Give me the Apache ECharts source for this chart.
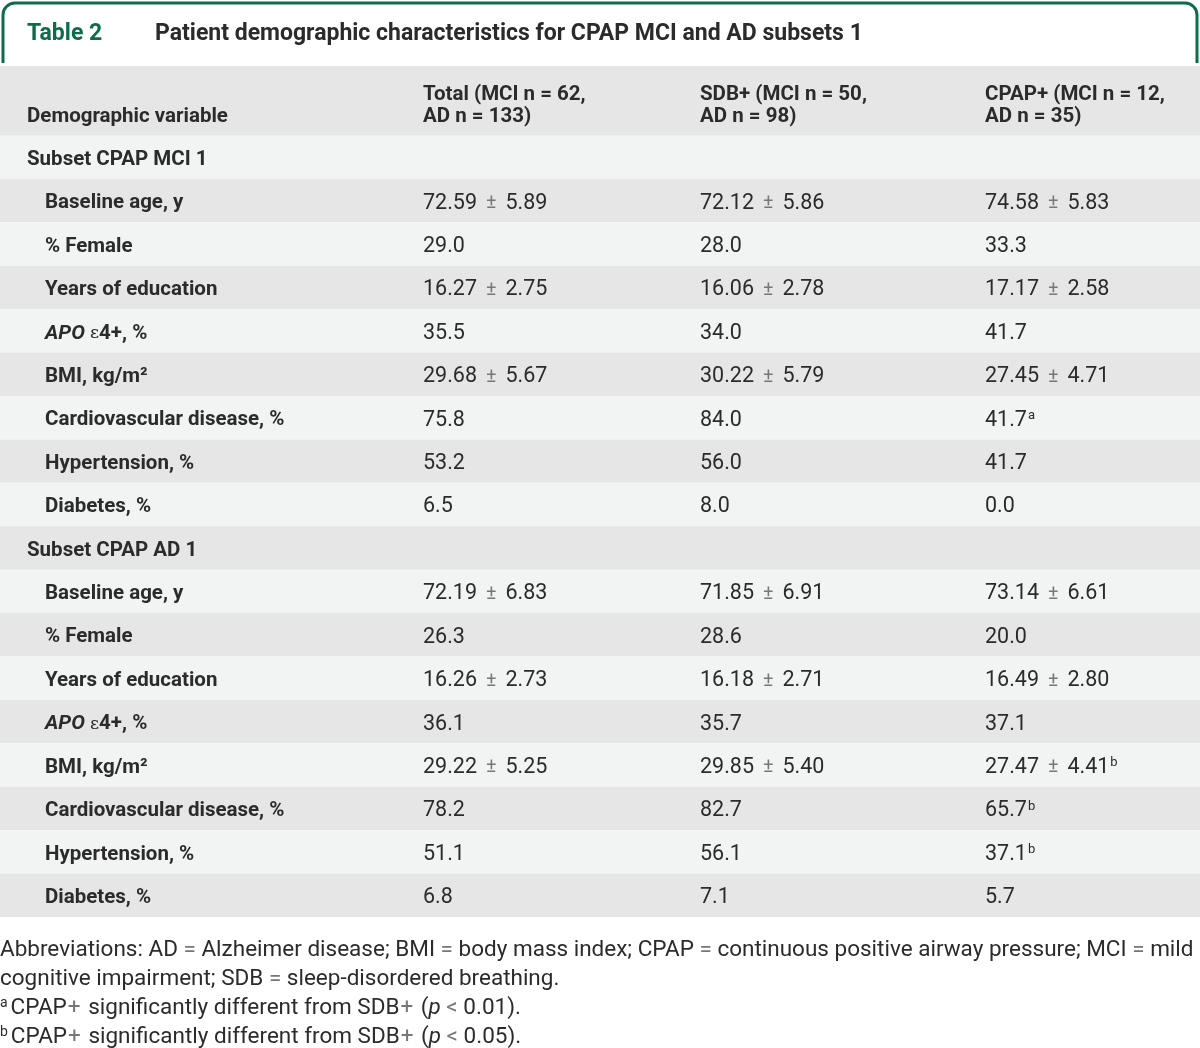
<!DOCTYPE html>
<html><head><meta charset="utf-8">
<script src="https://cdn.jsdelivr.net/npm/echarts@6/dist/echarts.min.js"></script>
<style>html,body{margin:0;padding:0;background:#fff}#c{width:1200px;height:1048px}</style>
</head><body><div id="c"></div>
<script>
// ---------- data ----------
var rowLabels = ["Subset CPAP MCI 1","Baseline age, y","% Female","Years of education","APO ε4+, %","BMI, kg/m²","Cardiovascular disease, %","Hypertension, %","Diabetes, %",
                 "Subset CPAP AD 1","Baseline age, y","% Female","Years of education","APO ε4+, %","BMI, kg/m²","Cardiovascular disease, %","Hypertension, %","Diabetes, %"];
var rowLevel  = [0,1,1,1,1,1,1,1,1, 0,1,1,1,1,1,1,1,1];
var totalMean = [null,72.59,29.0,16.27,35.5,29.68,75.8,53.2,6.5, null,72.19,26.3,16.26,36.1,29.22,78.2,51.1,6.8];
var totalSD   = [null,5.89,null,2.75,null,5.67,null,null,null, null,6.83,null,2.73,null,5.25,null,null,null];
var sdbMean   = [null,72.12,28.0,16.06,34.0,30.22,84.0,56.0,8.0, null,71.85,28.6,16.18,35.7,29.85,82.7,56.1,7.1];
var sdbSD     = [null,5.86,null,2.78,null,5.79,null,null,null, null,6.91,null,2.71,null,5.40,null,null,null];
var cpapMean  = [null,74.58,33.3,17.17,41.7,27.45,41.7,41.7,0.0, null,73.14,20.0,16.49,37.1,27.47,65.7,37.1,5.7];
var cpapSD    = [null,5.83,null,2.58,null,4.71,null,null,null, null,6.61,null,2.80,null,4.41,null,null,null];
var cpapNote  = ["","","","","","","a","","", "","","","","","b","b","b",""];
var columnHeaders = [["Total (MCI n = 62,","AD n = 133)"],["SDB+ (MCI n = 50,","AD n = 98)"],["CPAP+ (MCI n = 12,","AD n = 35)"]];
var firstHeader = "Demographic variable";
var tableLabel = "Table 2";
var tableTitle = "Patient demographic characteristics for CPAP MCI and AD subsets 1";

// ---------- style ----------
var FONT = 'Roboto';
var TXT = '#2b2b2b';
var GREEN = '#0d6c4c';
var DARK = '#e6e6e6', LIGHT = '#f2f3f3';
var COLX = [423, 700, 985];
var LBLFS = 20.5, VALFS = 21.5, DY = 2.5;

function fmt(m, sd, note) {
  if (m == null) return '';
  var s;
  if (sd != null) s = m.toFixed(2) + '{pm|±}' + sd.toFixed(2);
  else s = m.toFixed(1);
  if (note) s += '{sup|' + note + '}';
  return s;
}
var valRich = {
  pm: {fontFamily: FONT, fontSize: VALFS - 2, fill: '#777', padding: [0, 9, 0, 9]},
  sup: {fontFamily: FONT, fontSize: 13, verticalAlign: 'top', fill: TXT, padding: [0, 0, 0, 1]}
};
var lblRich = {
  i: {fontFamily: FONT, fontWeight: 'bold', fontStyle: 'italic', fontSize: LBLFS, fill: TXT},
  e: {fontFamily: 'DejaVu Serif', fontSize: LBLFS - 3, fill: TXT}
};

function labelText(s) {
  if (s.indexOf('APO') === 0) return '{i|APO} {e|ε}4+, %';
  return s;
}

function hdr(x, y, t) {
  return {type: 'text', x: x, y: y + DY, style: {text: t, fontFamily: FONT, fontWeight: 'bold', fontSize: LBLFS, fill: TXT, verticalAlign: 'middle'}};
}
var NFS = 22.5;
var noteRich = {
  s: {fontFamily: FONT, fontSize: 14, verticalAlign: 'top', fill: TXT, padding: [0, 3, 0, 0]},
  g: {fontFamily: FONT, fontSize: NFS, fill: '#777'},
  m: {fontFamily: FONT, fontSize: NFS, fill: '#777', padding: [0, 2, 0, 1]},
  i: {fontFamily: FONT, fontStyle: 'italic', fontSize: NFS, fill: TXT}
};
function note(y, t) {
  return {type: 'text', x: 0, y: y, style: {text: t, rich: noteRich, fontFamily: FONT, fontSize: NFS, fill: TXT, verticalAlign: 'middle'}};
}

var chart = echarts.init(document.getElementById('c'), null, {renderer: 'canvas'});
var option = {
  animation: false,
  backgroundColor: '#fff',
  grid: {left: 0, right: 0, top: 135.5, bottom: 131},
  xAxis: {type: 'value', min: 0, max: 1200, show: false},
  yAxis: {type: 'category', data: rowLabels, inverse: true, show: false},
  series: [{
    type: 'custom',
    data: rowLabels.map(function (_, i) { return [0, i]; }),
    encode: {x: 0, y: 1},
    renderItem: function (params, api) {
      var i = api.value(1);
      var c = api.coord([0, i]);
      var h = api.size([0, 1])[1];
      var xR = api.coord([1200, i])[0];
      var y = c[1];
      var kids = [{
        type: 'rect',
        shape: {x: c[0], y: y - h / 2, width: xR - c[0], height: h},
        style: {fill: i % 2 === 0 ? LIGHT : DARK}
      }, {
        type: 'text',
        style: {
          x: api.coord([rowLevel[i] ? 45 : 27, i])[0], y: y + DY,
          text: labelText(rowLabels[i]), rich: lblRich,
          fontFamily: FONT, fontWeight: 'bold', fontSize: LBLFS, fill: TXT,
          verticalAlign: 'middle', align: 'left'
        }
      }];
      var vals = [fmt(totalMean[i], totalSD[i], ''), fmt(sdbMean[i], sdbSD[i], ''), fmt(cpapMean[i], cpapSD[i], cpapNote[i])];
      for (var k = 0; k < 3; k++) {
        if (!vals[k]) continue;
        kids.push({
          type: 'text',
          style: {
            x: api.coord([COLX[k], i])[0], y: y + DY,
            text: vals[k], rich: valRich,
            fontFamily: FONT, fontSize: VALFS, fill: TXT,
            verticalAlign: 'middle', align: 'left'
          }
        });
      }
      return {type: 'group', children: kids};
    }
  }],
  graphic: [
    {type: 'polyline', shape: {points: [[3, 63], [3, 15]]}, style: {stroke: GREEN, lineWidth: 3, fill: null}},
    {type: 'arc', shape: {cx: 15, cy: 15, r: 12, startAngle: Math.PI, endAngle: Math.PI * 1.5}, style: {stroke: GREEN, lineWidth: 3, fill: null}},
    {type: 'polyline', shape: {points: [[15, 3], [1185, 3]]}, style: {stroke: GREEN, lineWidth: 3, fill: null}},
    {type: 'arc', shape: {cx: 1185, cy: 15, r: 12, startAngle: Math.PI * 1.5, endAngle: Math.PI * 2}, style: {stroke: GREEN, lineWidth: 3, fill: null}},
    {type: 'polyline', shape: {points: [[1197, 15], [1197, 63]]}, style: {stroke: GREEN, lineWidth: 3, fill: null}},
    {type: 'text', x: 27, y: 34, style: {text: tableLabel, fontFamily: FONT, fontWeight: 'bold', fontSize: 23, fill: GREEN, verticalAlign: 'middle'}},
    {type: 'text', x: 155, y: 34, style: {text: tableTitle, fontFamily: FONT, fontWeight: 'bold', fontSize: 23, fill: TXT, verticalAlign: 'middle'}},
    {type: 'rect', shape: {x: 0, y: 66, width: 1200, height: 70}, style: {fill: DARK}, z: -1},
    hdr(27, 114, firstHeader),
    hdr(COLX[0], 92, columnHeaders[0][0]), hdr(COLX[0], 114, columnHeaders[0][1]),
    hdr(COLX[1], 92, columnHeaders[1][0]), hdr(COLX[1], 114, columnHeaders[1][1]),
    hdr(COLX[2], 92, columnHeaders[2][0]), hdr(COLX[2], 114, columnHeaders[2][1]),
    note(950, 'Abbreviations: AD {g|=} Alzheimer disease; BMI {g|=} body mass index; CPAP {g|=} continuous positive airway pressure; MCI {g|=} mild'),
    note(979, 'cognitive impairment; SDB {g|=} sleep-disordered breathing.'),
    note(1008, '{s|a}CPAP{m|+} significantly different from SDB{m|+} ({i|p} {g|<} 0.01).'),
    note(1037, '{s|b}CPAP{m|+} significantly different from SDB{m|+} ({i|p} {g|<} 0.05).')
  ]
};
chart.setOption(option);
</script></body></html>
